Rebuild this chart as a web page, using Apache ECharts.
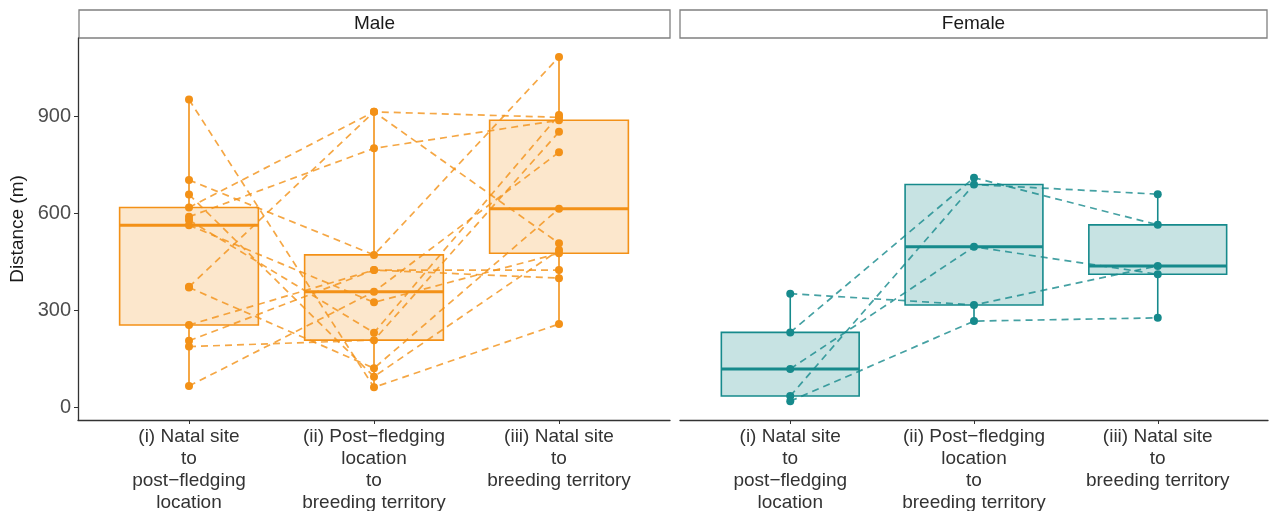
<!DOCTYPE html>
<html><head><meta charset="utf-8">
<script src="https://cdn.jsdelivr.net/npm/echarts@6/dist/echarts.min.js"></script>
<style>html,body{margin:0;padding:0;background:#fff}#c{width:1271px;height:511px}</style>
</head><body><div id="c"></div>
<script>
// ---- data ----
const categories = ['(i) Natal site\nto\npost\u2212fledging\nlocation', '(ii) Post\u2212fledging\nlocation\nto\nbreeding territory', '(iii) Natal site\nto\nbreeding territory'];
const yTicks = [0, 300, 600, 900];
const panels = ['Male', 'Female'];
// each index = one individual, values at the three stages
const maleStage1 = [953, 704, 659, 619, 590, 580, 564, 373, 371, 255, 206, 188, 66];
const maleStage2 = [62, 472, 95, 915, 802, 231, 325, 915, 121, 425, 425, 208, 358];
const maleStage3 = [258, 1085, 487, 898, 889, 905, 477, 508, 615, 425, 400, 853, 790];
const femaleStage1 = [352, 232, 119, 35, 19];
const femaleStage2 = [317, 711, 497, 690, 267];
const femaleStage3 = [438, 565, 412, 660, 277];

const ORANGE = '#F39117', ORANGE_FILL = 'rgba(243,145,23,0.22)';
const TEAL = '#168A8C', TEAL_FILL = 'rgba(22,138,140,0.24)';

function quantile(s, p) { const h = (s.length - 1) * p, lo = Math.floor(h), hi = Math.ceil(h); return s[lo] + (s[hi] - s[lo]) * (h - lo); }
function boxStats(vals) { const s = [...vals].sort((a, b) => a - b); return [s[0], quantile(s, .25), quantile(s, .5), quantile(s, .75), s[s.length - 1]]; }
function boxData(stages) { return stages.map((st, i) => [i, ...boxStats(st)]); }

function renderBox(color, fill) {
  return function (params, api) {
    const x = api.value(0), mn = api.value(1), q1 = api.value(2), md = api.value(3), q3 = api.value(4), mx = api.value(5);
    const hw = 0.375;
    const tl = api.coord([x - hw, q3]), br = api.coord([x + hw, q1]);
    const pMin = api.coord([x, mn]), pMax = api.coord([x, mx]), pQ1 = api.coord([x, q1]), pQ3 = api.coord([x, q3]);
    const mL = api.coord([x - hw, md]), mR = api.coord([x + hw, md]);
    return { type: 'group', children: [
      { type: 'line', shape: { x1: pMin[0], y1: pMin[1], x2: pQ1[0], y2: pQ1[1] }, style: { stroke: color, lineWidth: 1.6 } },
      { type: 'line', shape: { x1: pMax[0], y1: pMax[1], x2: pQ3[0], y2: pQ3[1] }, style: { stroke: color, lineWidth: 1.6 } },
      { type: 'rect', shape: { x: tl[0], y: tl[1], width: br[0] - tl[0], height: br[1] - tl[1] }, style: { fill: fill, stroke: color, lineWidth: 1.6 } },
      { type: 'line', shape: { x1: mL[0], y1: mL[1], x2: mR[0], y2: mR[1] }, style: { stroke: color, lineWidth: 3 } }
    ] };
  };
}

function individualSeries(s1, s2, s3, color, gi) {
  return s1.map((v, i) => ({
    type: 'line', xAxisIndex: gi, yAxisIndex: gi,
    data: [[0, v], [1, s2[i]], [2, s3[i]]],
    symbol: 'circle', symbolSize: 8,
    itemStyle: { color: color },
    lineStyle: { color: color, width: 1.7, type: [7, 5], opacity: 0.8 },
    z: 3, silent: true
  }));
}

const FONT = 'Liberation Sans, Arial, sans-serif';
const Y_MIN = -39.3, Y_MAX = 1143.7;

function xAxis(gi) {
  return {
    type: 'value', gridIndex: gi, min: -0.6, max: 2.6, splitLine: { show: false },
    axisLine: { show: true, onZero: false, lineStyle: { color: '#333', width: 1.3 } },
    axisTick: { show: true, customValues: [0, 1, 2], length: 4, lineStyle: { color: '#333', width: 1 } },
    axisLabel: { customValues: [0, 1, 2], formatter: v => categories[Math.round(v)], color: '#333', fontSize: 19, lineHeight: 22, margin: 6, fontFamily: FONT }
  };
}

const chart = echarts.init(document.getElementById('c'));
chart.setOption({
  animation: false,
  backgroundColor: '#fff',
  grid: [
    { left: 78, top: 38, width: 592, height: 382, containLabel: false, outerBoundsMode: 'none' },
    { left: 680, top: 38, width: 588, height: 382, containLabel: false, outerBoundsMode: 'none' }
  ],
  xAxis: [xAxis(0), xAxis(1)],
  yAxis: [
    { type: 'value', gridIndex: 0, min: Y_MIN, max: Y_MAX, splitLine: { show: false },
      axisLine: { show: true, onZero: false, lineStyle: { color: '#333', width: 1.3 } },
      axisTick: { show: true, customValues: yTicks, length: 4, lineStyle: { color: '#333' } },
      axisLabel: { customValues: yTicks, color: '#4d4d4d', fontSize: 20, margin: 7, fontFamily: FONT },
      name: 'Distance (m)', nameLocation: 'middle', nameGap: 51, nameRotate: 90,
      nameTextStyle: { fontSize: 19, color: '#1a1a1a', fontFamily: FONT } },
    { type: 'value', gridIndex: 1, min: Y_MIN, max: Y_MAX, show: false, splitLine: { show: false } }
  ],
  graphic: [
    { type: 'rect', shape: { x: 79, y: 10, width: 591, height: 28 }, style: { fill: '#fff', stroke: '#808080', lineWidth: 1.3 } },
    { type: 'text', x: 374.5, y: 24, style: { text: panels[0], align: 'center', verticalAlign: 'middle', fontSize: 19, fill: '#1a1a1a', fontFamily: FONT } },
    { type: 'rect', shape: { x: 680, y: 10, width: 587, height: 28 }, style: { fill: '#fff', stroke: '#808080', lineWidth: 1.3 } },
    { type: 'text', x: 973.5, y: 24, style: { text: panels[1], align: 'center', verticalAlign: 'middle', fontSize: 19, fill: '#1a1a1a', fontFamily: FONT } }
  ],
  series: [
    { type: 'custom', xAxisIndex: 0, yAxisIndex: 0, z: 2, silent: true, renderItem: renderBox(ORANGE, ORANGE_FILL),
      encode: { x: 0, y: [1, 2, 3, 4, 5] }, data: boxData([maleStage1, maleStage2, maleStage3]) },
    { type: 'custom', xAxisIndex: 1, yAxisIndex: 1, z: 2, silent: true, renderItem: renderBox(TEAL, TEAL_FILL),
      encode: { x: 0, y: [1, 2, 3, 4, 5] }, data: boxData([femaleStage1, femaleStage2, femaleStage3]) },
    ...individualSeries(maleStage1, maleStage2, maleStage3, ORANGE, 0),
    ...individualSeries(femaleStage1, femaleStage2, femaleStage3, TEAL, 1)
  ]
});
</script></body></html>
